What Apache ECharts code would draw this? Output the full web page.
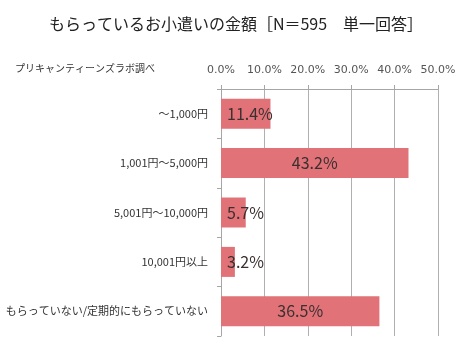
<!DOCTYPE html>
<html><head><meta charset="utf-8">
<script src="https://cdn.jsdelivr.net/npm/echarts@6/dist/echarts.min.js"></script>
<style>html,body{margin:0;padding:0;background:#fff}#c{width:460px;height:347px}</style>
</head><body><div id="c"></div>
<script>
const titleText = 'もらっているお小遣いの金額［N＝595　単一回答］';
const sourceText = 'プリキャンティーンズラボ調べ';
const categories = ['～1,000円', '1,001円～5,000円', '5,001円～10,000円', '10,001円以上', 'もらっていない/定期的にもらっていない'];
const values = [11.4, 43.2, 5.7, 3.2, 36.5];
const FONT = '"Noto Sans CJK JP", "Noto Sans", sans-serif';
const LATIN = '"DejaVu Sans", "Noto Sans CJK JP", sans-serif';

const chart = echarts.init(document.getElementById('c'), null, {renderer: 'canvas'});
chart.setOption({
  animation: false,
  backgroundColor: '#fff',
  title: {
    text: titleText, left: 231, textAlign: 'center', top: 11,
    textStyle: {fontFamily: FONT, fontSize: 16, fontWeight: 'normal', color: '#222'}
  },
  graphic: [{
    type: 'text', left: 15, top: 63,
    style: {text: sourceText, font: '10px ' + FONT, fill: '#333'}
  }],
  grid: {left: 221, right: 22, top: 89, bottom: 11, containLabel: false},
  xAxis: {
    type: 'value', position: 'top', min: 0, max: 50, interval: 10,
    axisLine: {show: true, lineStyle: {color: '#a6a6a6'}},
    axisTick: {show: true, length: 4, lineStyle: {color: '#a6a6a6'}},
    splitLine: {show: true, lineStyle: {color: '#b0b0b0'}},
    axisLabel: {margin: 13, fontFamily: LATIN, fontSize: 11, color: '#555',
      formatter: v => v.toFixed(1) + '%'}
  },
  yAxis: {
    type: 'category', inverse: true, data: categories,
    axisLine: {show: true, lineStyle: {color: '#a6a6a6'}},
    axisTick: {show: true, length: 4, lineStyle: {color: '#a6a6a6'}},
    axisLabel: {margin: 13, fontFamily: FONT, fontSize: 11, color: '#333'}
  },
  series: [{
    type: 'bar', barWidth: 30,
    itemStyle: {color: '#e07278'},
    data: values.map(v => ({
      value: v,
      label: v >= 20 ? {position: 'inside'} : {position: 'insideLeft', distance: 6}
    })),
    label: {show: true, fontFamily: FONT, fontSize: 16, color: '#3a3030',
      formatter: p => p.value.toFixed(1) + '%'}
  }]
});
</script></body></html>
